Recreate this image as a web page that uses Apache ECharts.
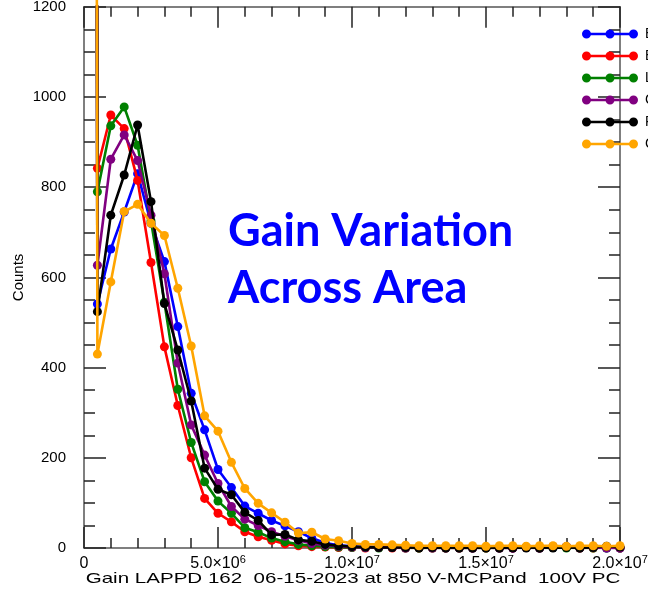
<!DOCTYPE html>
<html>
<head>
<meta charset="utf-8">
<script src="https://cdn.jsdelivr.net/npm/echarts@6/dist/echarts.min.js"></script>
<style>
  html, body { margin: 0; padding: 0; background: #fff; }
  #chart { width: 648px; height: 594px; }
</style>
</head>
<body>
<div id="chart"></div>
<script>
// Gain bin centres (x)
const gainBins = [0, 500000, 1000000, 1500000, 2000000, 2500000, 3000000, 3500000, 4000000, 4500000,
  5000000, 5500000, 6000000, 6500000, 7000000, 7500000, 8000000, 8500000, 9000000, 9500000,
  10000000, 10500000, 11000000, 11500000, 12000000, 12500000, 13000000, 13500000, 14000000, 14500000,
  15000000, 15500000, 16000000, 16500000, 17000000, 17500000, 18000000, 18500000, 19000000, 19500000, 20000000];

// Counts per series (first bin = pedestal, far off scale)
const blueCounts = [20000, 541, 663, 745, 830, 720, 635, 491, 343, 262, 174, 134, 93, 77, 61, 49, 36, 22, 11, 6,
  4, 3, 2, 2, 1, 1, 1, 1, 1, 0, 1, 0, 0, 1, 0, 1, 3, 2, 1, 0, 0];
const redCounts = [20000, 842, 960, 930, 815, 633, 446, 316, 200, 110, 77, 58, 36, 25, 17, 9, 5, 3, 2, 1,
  1, 0, 1, 0, 0, 0, 0, 0, 0, 0, 0, 0, 0, 1, 0, 3, 1, 0, 0, 1, 0];
const greenCounts = [20000, 790, 936, 978, 893, 725, 545, 352, 234, 147, 104, 77, 45, 35, 22, 14, 8, 5, 3, 2,
  1, 1, 0, 1, 0, 0, 0, 0, 0, 0, 0, 0, 1, 2, 0, 1, 0, 0, 0, 0, 0];
const purpleCounts = [20000, 627, 862, 916, 859, 738, 608, 410, 273, 206, 143, 92, 64, 50, 36, 26, 17, 10, 6, 4,
  2, 1, 1, 1, 0, 1, 0, 0, 0, 0, 1, 0, 0, 2, 0, 3, 3, 0, 1, 0, 0];
const blackCounts = [20000, 524, 738, 827, 938, 768, 542, 439, 326, 177, 130, 118, 79, 61, 29, 30, 18, 15, 8, 5,
  3, 2, 1, 1, 1, 0, 1, 0, 0, 0, 0, 0, 0, 0, 0, 0, 1, 0, 1, 4, 2];
const orangeCounts = [20000, 430, 590, 746, 762, 720, 693, 576, 448, 293, 259, 190, 132, 99, 78, 57, 33, 35, 20, 16,
  10, 8, 8, 7, 6, 5, 5, 5, 5, 5, 4, 5, 5, 4, 5, 5, 4, 5, 5, 4, 5];

const seriesNames = ['Bottom Left', 'Bottom Right', 'Lower Middle', 'Center', 'Right Edge', 'Corner'];
const seriesColors = ['#0000FF', '#FF0000', '#008000', '#800080', '#000000', '#FFA500'];
const seriesData = [blueCounts, redCounts, greenCounts, purpleCounts, blackCounts, orangeCounts];

// Tick labels
const xTickValues = [0, 5000000, 10000000, 15000000, 20000000];
const xTickMantissa = ['0', '5.0\u00d710', '1.0\u00d710', '1.5\u00d710', '2.0\u00d710'];
const xTickExponent = ['', '6', '7', '7', '7'];
const yTickLabels = ['0', '200', '400', '600', '800', '1000', '1200'];

const xTitle = 'Gain LAPPD 162  06-15-2023 at 850 V-MCPand  100V PC';
const yTitle = 'Counts';
const noteLines = ['Gain Variation', 'Across Area'];

const chart = echarts.init(document.getElementById('chart'), null, { renderer: 'canvas' });

const axisFont = 'Liberation Sans';
const lineColor = '#555555';
const tickColor = '#222222';
const gridLeft = 84, gridRight = 28, gridTop = 6.8, gridBottom = 46;

const legendIcon = 'path://M0,4.5 A4.5,4.5 0 1,1 9,4.5 A4.5,4.5 0 1,1 0,4.5 Z ' +
  'M23.5,4.5 A4.5,4.5 0 1,1 32.5,4.5 A4.5,4.5 0 1,1 23.5,4.5 Z ' +
  'M47,4.5 A4.5,4.5 0 1,1 56,4.5 A4.5,4.5 0 1,1 47,4.5 Z ' +
  'M4.5,3.2 L51.5,3.2 L51.5,5.8 L4.5,5.8 Z';

function makeXAxis(pos, showLabels) {
  return {
    type: 'value', position: pos, min: 0, max: 20000000, interval: 5000000,
    axisLine: { show: true, onZero: false, lineStyle: { color: lineColor, width: 1.5 } },
    axisTick: { show: true, inside: true, length: 21, lineStyle: { color: tickColor, width: 1.5 } },
    minorTick: { show: true, splitNumber: 5, length: 10, lineStyle: { color: tickColor, width: 1.5 } },
    splitLine: { show: false },
    axisLabel: {
      show: showLabels, margin: 7,
      formatter: function (v) {
        const i = xTickValues.indexOf(v);
        if (i < 0) return '';
        return xTickExponent[i] ? '{m|' + xTickMantissa[i] + '}{e|' + xTickExponent[i] + '}' : '{m|' + xTickMantissa[i] + '}';
      },
      rich: {
        m: { fontFamily: axisFont, fontSize: 16, color: '#000', lineHeight: 18 },
        e: { fontFamily: axisFont, fontSize: 11, color: '#000', lineHeight: 12, padding: [0, 0, 8, 0] }
      }
    }
  };
}
function makeYAxis(pos, showLabels) {
  return {
    type: 'value', position: pos, min: 0, max: 1200, interval: 200,
    axisLine: { show: true, onZero: false, lineStyle: { color: lineColor, width: 1.5 } },
    axisTick: { show: true, inside: true, length: 22, lineStyle: { color: tickColor, width: 1.5 } },
    minorTick: { show: true, splitNumber: 4, length: 11, lineStyle: { color: tickColor, width: 1.5 } },
    splitLine: { show: false },
    axisLabel: {
      show: showLabels, margin: 18, fontFamily: axisFont, fontSize: 15, color: '#000',
      formatter: function (v) { return yTickLabels[Math.round(v / 200)]; }
    },
    name: showLabels ? yTitle : '', nameLocation: 'middle', nameGap: 58, nameRotate: 90,
    nameMoveOverlap: false,
    nameTextStyle: { fontFamily: axisFont, fontSize: 15, color: '#000' }
  };
}

const series = seriesNames.map(function (name, i) {
  return {
    name: name, type: 'line', xAxisIndex: 0, yAxisIndex: 0,
    data: gainBins.map(function (g, j) { return [g, seriesData[i][j]]; }),
    symbol: 'circle', symbolSize: 9, showSymbol: true,
    lineStyle: { color: seriesColors[i], width: 2.6 },
    itemStyle: { color: seriesColors[i] },
    clip: i === 5 ? false : true,
    animation: false, z: 2 + i
  };
});

const plotCenterX = gridLeft + (648 - gridLeft - gridRight) / 2;

chart.setOption({
  backgroundColor: '#ffffff',
  animation: false,
  grid: { left: gridLeft, right: gridRight, top: gridTop, bottom: gridBottom, containLabel: false, outerBoundsMode: 'none' },
  xAxis: [makeXAxis('bottom', true), makeXAxis('top', false)],
  yAxis: [makeYAxis('left', true), makeYAxis('right', false)],
  legend: {
    orient: 'vertical', left: 577, top: 22,
    itemWidth: 56, itemHeight: 9, itemGap: 8,
    icon: legendIcon,
    textStyle: { fontFamily: axisFont, fontSize: 14, color: '#000', lineHeight: 14, padding: [0, 0, 0, 2] },
    data: seriesNames.map(function (n, i) { return { name: n, itemStyle: { color: seriesColors[i] } }; })
  },
  graphic: noteLines.map(function (t, i) {
    return {
      type: 'text', x: 228, y: 208 + i * 57, scaleX: 0.98, z: 100,
      style: { text: t, fill: '#0000FF', font: 'bold 46px Lato' }
    };
  }).concat([{
    type: 'text', x: plotCenterX + 1, y: 579, scaleX: 1.37, z: 100,
    style: { text: xTitle, fill: '#000', font: '15px "Liberation Sans"', align: 'center', verticalAlign: 'middle' }
  }]),
  series: series
});
</script>
</body>
</html>
